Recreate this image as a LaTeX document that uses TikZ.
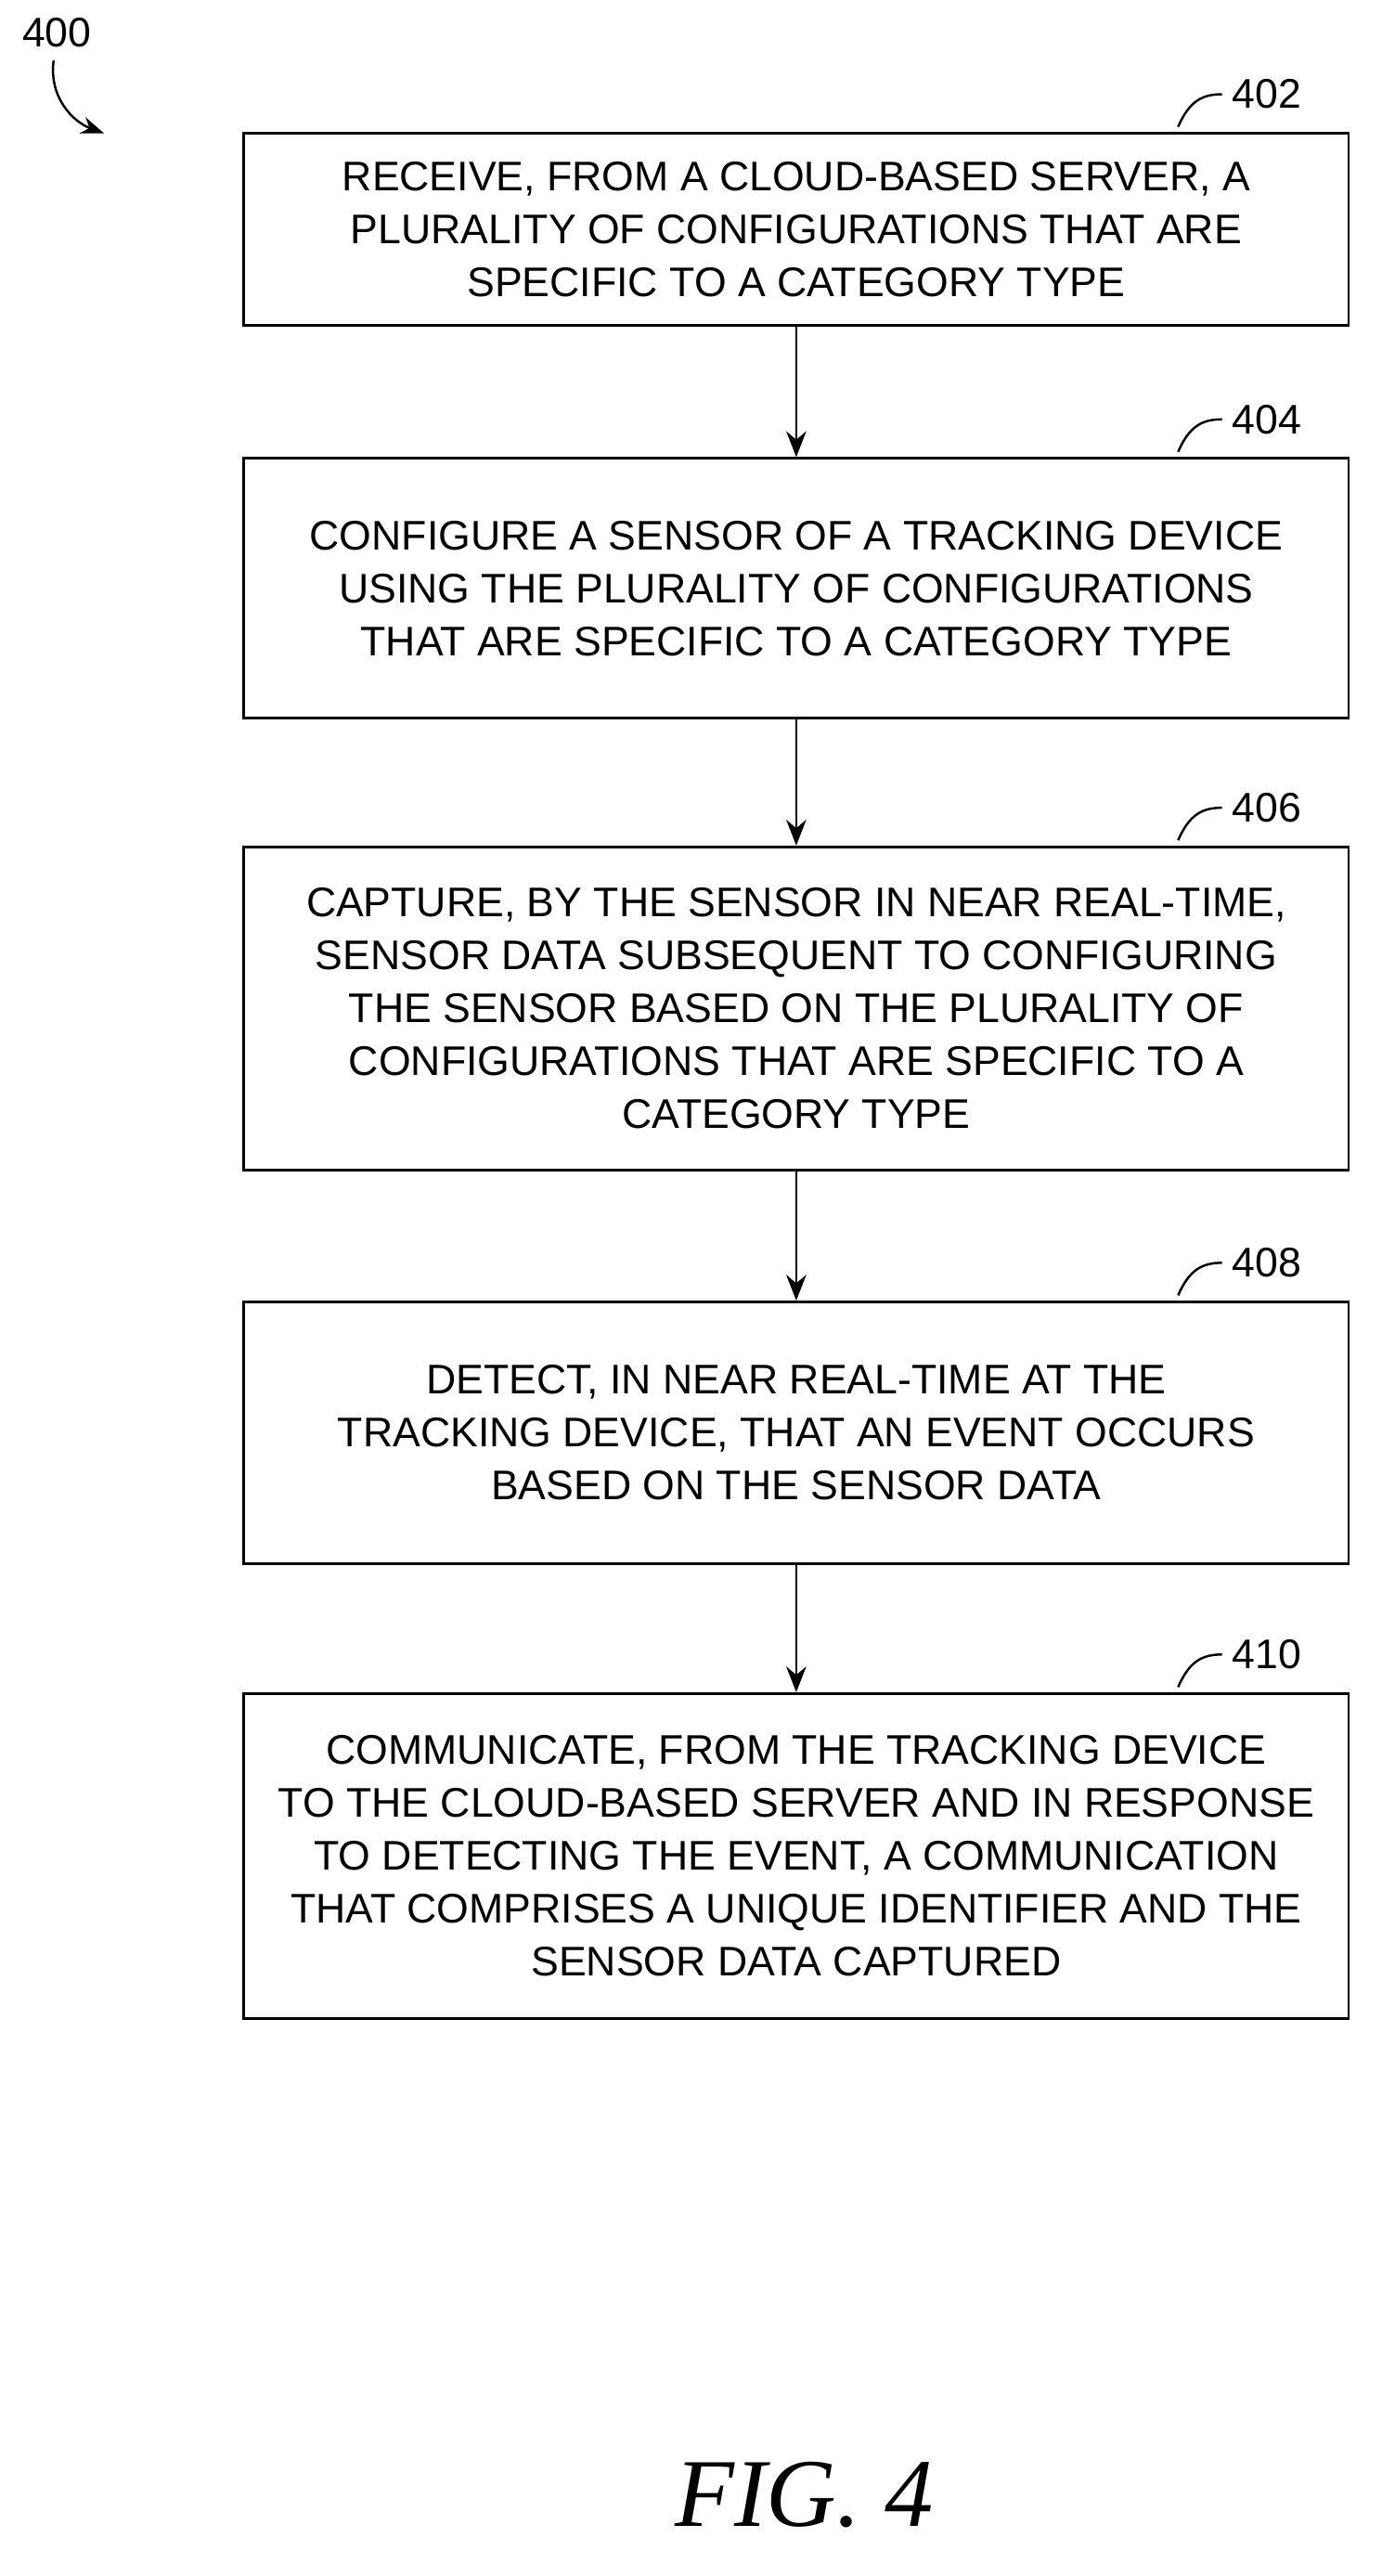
\documentclass[tikz,border=0pt]{standalone}
\usepackage{fontspec}
\setmainfont{Liberation Sans}
\usetikzlibrary{positioning,arrows.meta}
\tikzset{
    flowstep/.style={draw, line width=0.9pt, minimum width=13.6cm, align=center,
        font=\fontsize{14.5}{18.5}\selectfont, inner sep=0pt},
    flow/.style={-{Stealth[length=9pt,width=7pt]}, line width=0.9pt},
    reflabel/.style={font=\fontsize{14.5}{17}\selectfont},
}
\begin{document}
\begin{tikzpicture}[x=0.02cm, y=-0.02cm]
        \useasboundingbox (0,0) rectangle (850,1585);
        % steps
        \node[flowstep, minimum height=2.36cm] (s402) at (490,141)
            {RECEIVE, FROM A CLOUD-BASED SERVER, A\\PLURALITY OF CONFIGURATIONS THAT ARE\\SPECIFIC TO A CATEGORY TYPE};
        \node[flowstep, minimum height=3.2cm] (s404) at (490,362)
            {CONFIGURE A SENSOR OF A TRACKING DEVICE\\USING THE PLURALITY OF CONFIGURATIONS\\THAT ARE SPECIFIC TO A CATEGORY TYPE};
        \node[flowstep, minimum height=3.98cm] (s406) at (490,620.5)
            {CAPTURE, BY THE SENSOR IN NEAR REAL-TIME,\\SENSOR DATA SUBSEQUENT TO CONFIGURING\\THE SENSOR BASED ON THE PLURALITY OF\\CONFIGURATIONS THAT ARE SPECIFIC TO A\\CATEGORY TYPE};
        \node[flowstep, minimum height=3.22cm] (s408) at (490,881.5)
            {DETECT, IN NEAR REAL-TIME AT THE\\TRACKING DEVICE, THAT AN EVENT OCCURS\\BASED ON THE SENSOR DATA};
        \node[flowstep, minimum height=4cm] (s410) at (490,1142)
            {COMMUNICATE, FROM THE TRACKING DEVICE\\TO THE CLOUD-BASED SERVER AND IN RESPONSE\\TO DETECTING THE EVENT, A COMMUNICATION\\THAT COMPRISES A UNIQUE IDENTIFIER AND THE\\SENSOR DATA CAPTURED};
        % connectors
        \draw[flow] (s402) -- (s404);
        \draw[flow] (s404) -- (s406);
        \draw[flow] (s406) -- (s408);
        \draw[flow] (s408) -- (s410);
        % reference numerals
        \foreach \n/\y in {402/82, 404/282, 406/521, 408/801, 410/1042} {
            \node[reflabel, anchor=west] (l\n) at (752,\y-24) {\n};
            \draw[line width=0.8pt] (725,\y-4) .. controls (732,\y-20) and (740,\y-24) .. (l\n.west);
        }
        \node[reflabel] (fig) at (35,20) {400};
        \coordinate (figtip) at (64,82);
        \draw[-{Stealth[length=8pt,width=6pt]}, line width=0.8pt] (fig.south) ++(-2,2) .. controls (30,60) and (45,75) .. (figtip);
        \node[font=\fontspec{Liberation Serif}\itshape\fontsize{34}{40}\selectfont] (title) at (495,1535) {FIG. 4};
\end{tikzpicture}
\end{document}
